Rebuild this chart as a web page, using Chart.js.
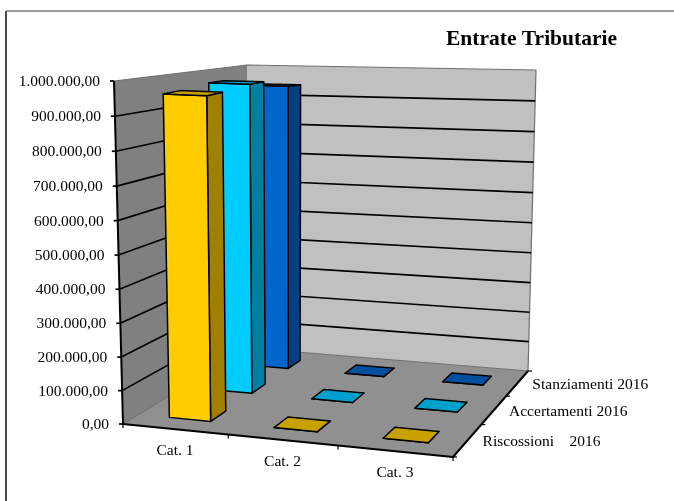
<!DOCTYPE html>
<html>
<head>
<meta charset="utf-8">
<title>Entrate Tributarie</title>
<script src="https://cdn.jsdelivr.net/npm/chart.js@4/dist/chart.umd.min.js"></script>
<style>
    body { margin: 0; background: #fff; }
    canvas { display: block; }
</style>
</head>
<body>
<canvas id="chart" width="674" height="501"></canvas>
<script>
const categories = ["Cat. 1", "Cat. 2", "Cat. 3"];
const seriesNames = ["Riscossioni    2016", "Accertamenti 2016", "Stanziamenti 2016"];
const riscossioni = [957000, 0, 0];
const accertamenti = [965000, 0, 0];
const stanziamenti = [940000, 0, 0];
const yTickLabels = ["0,00", "100.000,00", "200.000,00", "300.000,00", "400.000,00", "500.000,00",
    "600.000,00", "700.000,00", "800.000,00", "900.000,00", "1.000.000,00"];

const FONT = "15.5px 'Liberation Serif'";

// corners of the box on the page: front-left, front-right, back-right, back-left
const floorCorners = [[123, 424], [453, 457], [528, 371], [248, 348]];
const ceilCorners = [[114, 81], [462, 96], [536, 70], [247, 65]];

// face colours per series: front, side, top
const faces = [
    ["#ffcc00", "#a08000", "#c8a000"],
    ["#00ccff", "#0080a0", "#00a0cc"],
    ["#0066cc", "#004080", "#0050a0"]
];

// unit square to quad
function quadMap(p) {
    const dx1 = p[1][0] - p[2][0], dx2 = p[3][0] - p[2][0], sx = p[0][0] - p[1][0] + p[2][0] - p[3][0];
    const dy1 = p[1][1] - p[2][1], dy2 = p[3][1] - p[2][1], sy = p[0][1] - p[1][1] + p[2][1] - p[3][1];
    const den = dx1 * dy2 - dx2 * dy1;
    const g = (sx * dy2 - dx2 * sy) / den;
    const h = (dx1 * sy - sx * dy1) / den;
    const a = p[1][0] - p[0][0] + g * p[1][0], b = p[3][0] - p[0][0] + h * p[3][0];
    const d = p[1][1] - p[0][1] + g * p[1][1], e = p[3][1] - p[0][1] + h * p[3][1];
    return (u, w) => {
        const q = g * u + h * w + 1;
        return [(a * u + b * w + p[0][0]) / q, (d * u + e * w + p[0][1]) / q];
    };
}

const floorMap = quadMap(floorCorners);

// how far up the box goes at a floor position, blended from the four corners
function riseAt(u, w, i) {
    const r = k => ceilCorners[k][i] - floorCorners[k][i];
    return (r(0) * (1 - u) + r(1) * u) * (1 - w) + (r(3) * (1 - u) + r(2) * u) * w;
}

// u along categories, v along values, w along series (all 0..1)
function project(u, v, w) {
    const f = floorMap(u, w);
    const k = v - 0.03 * v * (1 - v); // slight vertical perspective
    return [f[0] + riseAt(u, w, 0) * k, f[1] + riseAt(u, w, 1) * k];
}

function poly(ctx, pts, fill, stroke, lineWidth) {
    ctx.beginPath();
    pts.forEach((p, i) => i ? ctx.lineTo(p[0], p[1]) : ctx.moveTo(p[0], p[1]));
    if (fill) {
        ctx.closePath();
        ctx.fillStyle = fill;
        ctx.fill();
    }
    if (stroke) {
        ctx.strokeStyle = stroke;
        ctx.lineWidth = lineWidth;
        ctx.stroke();
    }
}

const box3d = {
    id: "box3d",

    // walls, floor, grid and axis lines
    beforeDatasetsDraw(chart) {
        const ctx = chart.ctx;
        const ys = chart.scales.y, xs = chart.scales.x, zs = chart.scales.z;

        ctx.save();
        ctx.lineJoin = "round";

        // chart frame: only the left and top sides are in the picture
        poly(ctx, [[6, 501], [6, 11]], null, "#111", 1.5);
        poly(ctx, [[6, 11], [674, 11]], null, "#777", 1.5);

        poly(ctx, [project(0, 0, 0), project(0, 1, 0), project(0, 1, 1), project(0, 0, 1)], "#808080", null);
        poly(ctx, [project(0, 0, 1), project(0, 1, 1), project(1, 1, 1), project(1, 0, 1)], "#c0c0c0", null);
        poly(ctx, [project(0, 0, 0), project(1, 0, 0), project(1, 0, 1), project(0, 0, 1)], "#909090", null);

        poly(ctx, [project(0, 1, 0), project(0, 1, 1), project(1, 1, 1), project(1, 0, 1), project(0, 0, 1), project(0, 0, 0)], null, "#707070", 1.2);

        ys.ticks.forEach(t => {
            const v = ys.getDecimalForPixel(ys.getPixelForValue(t.value));
            const a = project(0, v, 0);
            if (v > 0 && v < 1) {
                poly(ctx, [a, project(0, v, 1), project(1, v, 1)], null, "#000", 1.7);
            }
            poly(ctx, [[a[0] - 4, a[1]], a], null, "#000", 1.7);
        });

        poly(ctx, [project(0, 1, 0), project(0, 0, 0), project(1, 0, 0), project(1, 0, 1)], null, "#000", 2);

        // ticks on the two floor edges
        for (let i = 0; i <= categories.length; i++) {
            const p = project(i / categories.length, 0, 0);
            poly(ctx, [p, [p[0], p[1] + 4]], null, "#000", 1.2);
        }
        for (let i = 0; i <= seriesNames.length; i++) {
            const p = project(1, 0, i / seriesNames.length);
            poly(ctx, [p, [p[0] + 4, p[1]]], null, "#000", 1.2);
        }

        // bars, back row first
        for (let d = chart.data.datasets.length - 1; d >= 0; d--) {
            const meta = chart.getDatasetMeta(d);
            const wc = zs.getDecimalForPixel(zs.getPixelForValue(d));
            const colors = faces[d];
            meta.data.forEach(el => {
                const u0 = xs.getDecimalForPixel(el.x - el.width / 2);
                const u1 = xs.getDecimalForPixel(el.x + el.width / 2);
                const top = ys.getDecimalForPixel(el.y);
                const base = ys.getDecimalForPixel(el.base);
                const half = (u1 - u0) * 0.44;
                const w0 = wc - half, w1 = wc + half;
                poly(ctx, [project(u1, base, w0), project(u1, top, w0), project(u1, top, w1), project(u1, base, w1)], colors[1], "#000", 1.5);
                poly(ctx, [project(u0, base, w0), project(u0, top, w0), project(u1, top, w0), project(u1, base, w0)], colors[0], "#000", 1.5);
                poly(ctx, [project(u0, top, w0), project(u1, top, w0), project(u1, top, w1), project(u0, top, w1)], colors[2], "#000", 1.5);
            });
        }

        // axis texts come from the scales' own ticks
        ctx.fillStyle = "#000";
        ctx.font = FONT;
        ctx.textBaseline = "middle";

        ctx.textAlign = "right";
        ys.ticks.forEach(t => {
            const p = project(0, ys.getDecimalForPixel(ys.getPixelForValue(t.value)), 0);
            ctx.fillText(t.label, p[0] - 14, p[1] + 1);
        });

        ctx.textAlign = "center";
        xs.ticks.forEach((t, i) => {
            const p = project(xs.getDecimalForPixel(xs.getPixelForValue(i)), 0, 0);
            ctx.fillText(t.label, p[0], p[1] + 22);
        });

        ctx.textAlign = "left";
        zs.ticks.forEach((t, i) => {
            const p = project(1, 0, zs.getDecimalForPixel(zs.getPixelForValue(i)));
            ctx.fillText(t.label, p[0] + 15, p[1] + 2);
        });

        ctx.restore();
        return false; // the flat bars are replaced by the ones above
    }
};

new Chart(document.getElementById("chart"), {
    type: "bar",
    data: {
        labels: categories,
        datasets: [
            { label: seriesNames[0], data: riscossioni },
            { label: seriesNames[1], data: accertamenti },
            { label: seriesNames[2], data: stanziamenti }
        ]
    },
    options: {
        responsive: false,
        animation: false,
        layout: { padding: { top: 27, right: 57 } },
        datasets: { bar: { grouped: false, barPercentage: 0.4, categoryPercentage: 1 } },
        plugins: {
            legend: { display: false },
            tooltip: { enabled: false },
            title: {
                display: true,
                text: "Entrate Tributarie",
                align: "end",
                color: "#000",
                padding: 0,
                font: { family: "'Liberation Serif'", size: 21.5, weight: "bold" }
            }
        },
        scales: {
            x: { display: false },
            y: {
                display: false,
                min: 0,
                max: 1000000,
                ticks: { stepSize: 100000, callback: (value, i) => yTickLabels[i] }
            },
            z: { axis: "x", type: "category", position: "bottom", display: false, offset: true, labels: seriesNames }
        }
    },
    plugins: [box3d]
});
</script>
</body>
</html>
